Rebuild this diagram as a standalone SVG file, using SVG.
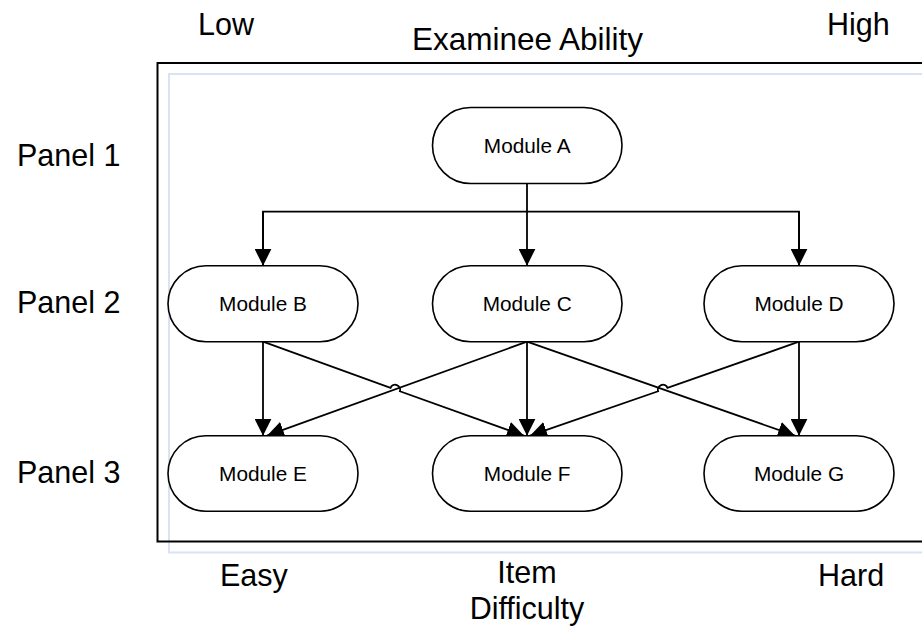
<svg xmlns="http://www.w3.org/2000/svg" width="922" height="629" viewBox="0 0 922 629">
  <style>
    .label { font-family: "Liberation Sans", Arial, sans-serif; font-size: 30.5px; fill: #000; }
    .node rect { fill: #fff; stroke: #000; stroke-width: 1.6; }
    .node text { font-family: "Liberation Sans", Arial, sans-serif; font-size: 20.8px; fill: #000; text-anchor: middle; }
    .conn { fill: none; stroke: #000; stroke-width: 1.8; }
    .arrow { marker-end: url(#head); }
  </style>
  <defs>
    <marker id="head" markerUnits="userSpaceOnUse" markerWidth="17" markerHeight="17" refX="16" refY="8" orient="auto" viewBox="0 0 16 16">
      <path d="M0,0 L16,8 L0,16 z" fill="#000"/>
    </marker>
  </defs>

  <rect width="922" height="629" fill="#fff"/>

  <!-- frame -->
  <g id="frame">
    <path d="M930,74 L169,74 L169,552.5 L930,552.5" fill="none" stroke="#dae3f3" stroke-width="2"/>
    <path d="M930,63 L157.5,63 L157.5,541.5 L930,541.5" fill="none" stroke="#000" stroke-width="2"/>
  </g>

  <!-- axis and panel labels -->
  <g id="labels">
    <text class="label" x="198" y="35">Low</text>
    <text class="label" x="412" y="50" style="font-size:31.5px">Examinee Ability</text>
    <text class="label" x="827" y="35">High</text>
    <text class="label" x="17" y="166">Panel 1</text>
    <text class="label" x="17" y="313">Panel 2</text>
    <text class="label" x="17" y="483">Panel 3</text>
    <text class="label" x="220" y="586">Easy</text>
    <text class="label" x="527" y="583" text-anchor="middle">Item</text>
    <text class="label" x="527" y="619" text-anchor="middle">Difficulty</text>
    <text class="label" x="818" y="586">Hard</text>
  </g>

  <!-- connectors -->
  <g id="connectors">
    <path class="conn" d="M527,183.5 L527,211.7"/>
    <path class="conn" d="M263,265.7 L263,211.7 L799,211.7 L799,265.7" />
    <path class="conn arrow" d="M263,211.7 L263,265.7"/>
    <path class="conn arrow" d="M527,211.7 L527,265.7"/>
    <path class="conn arrow" d="M799,211.7 L799,265.7"/>

    <path class="conn arrow" d="M263,341.7 L263,435.7"/>
    <path class="conn arrow" d="M527,341.7 L527,435.7"/>
    <path class="conn arrow" d="M799,341.7 L799,435.7"/>

    <path class="conn arrow" d="M527,341.7 L267,435.7"/>
    <path class="conn arrow" d="M527,341.7 L795,435.7"/>
    <path class="conn arrow" d="M263,341.7 L390.5,387.9 A5,5 0 0 1 399.9,391.3 L524,435.7"/>
    <path class="conn arrow" d="M799,341.7 L667.5,387.9 A5,5 0 0 0 658.1,391.3 L530,435.7"/>
  </g>

  <!-- modules -->
  <g id="module-a" class="node">
    <rect x="432.5" y="107.5" width="189.5" height="76" rx="38"/>
    <text x="527.2" y="152.5">Module A</text>
  </g>
  <g id="module-b" class="node">
    <rect x="168" y="265.7" width="190" height="76" rx="38"/>
    <text x="263" y="310.7">Module B</text>
  </g>
  <g id="module-c" class="node">
    <rect x="432.5" y="265.7" width="189.5" height="76" rx="38"/>
    <text x="527.2" y="310.7">Module C</text>
  </g>
  <g id="module-d" class="node">
    <rect x="704" y="265.7" width="190" height="76" rx="38"/>
    <text x="799" y="310.7">Module D</text>
  </g>
  <g id="module-e" class="node">
    <rect x="168" y="435.7" width="190" height="75.5" rx="37.7"/>
    <text x="263" y="480.5">Module E</text>
  </g>
  <g id="module-f" class="node">
    <rect x="432.5" y="435.7" width="189.5" height="75.5" rx="37.7"/>
    <text x="527.2" y="480.5">Module F</text>
  </g>
  <g id="module-g" class="node">
    <rect x="704" y="435.7" width="190" height="75.5" rx="37.7"/>
    <text x="799" y="480.5">Module G</text>
  </g>
</svg>
